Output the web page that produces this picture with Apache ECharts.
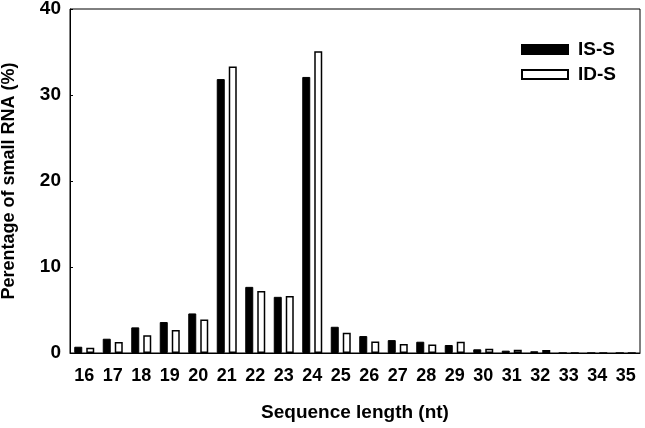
<!DOCTYPE html>
<html>
<head>
<meta charset="utf-8">
<script src="https://cdn.jsdelivr.net/npm/echarts@6/dist/echarts.min.js"></script>
<style>html,body{margin:0;padding:0;background:#fff;}#c{width:645px;height:428px;}</style>
</head>
<body>
<div id="c"></div>
<script>
const categories = ['16','17','18','19','20','21','22','23','24','25','26','27','28','29','30','31','32','33','34','35'];
const isS = [0.73,1.66,2.98,3.6,4.6,31.85,7.69,6.53,32.1,3.05,1.97,1.5,1.31,0.93,0.43,0.27,0.2,0,0,0];
const idS = [0.62,1.28,2.05,2.67,3.9,33.3,7.2,6.64,35.1,2.36,1.35,1.04,1.0,1.31,0.5,0.39,0.35,0,0,0];
const yTicks = {min:0, max:40, interval:10};

const font = 'Liberation Sans, Arial, sans-serif';
const chart = echarts.init(document.getElementById('c'));
chart.setOption({
  animation: false,
  backgroundColor: '#fff',
  grid: {left:70, right:5, top:9, bottom:75, show:true, borderColor:'#000', borderWidth:1, backgroundColor:'transparent', containLabel:false, outerBoundsMode:'none'},
  legend: {
    orient:'vertical', left:516, top:35, itemWidth:46, itemHeight:9, itemGap:6,
    icon:'rect',
    textStyle:{fontFamily:font, fontWeight:'bold', fontSize:19, color:'#000', padding:[0,0,0,5]},
    data:['IS-S','ID-S']
  },
  xAxis: {
    type:'category', data:categories,
    axisLine:{show:true, lineStyle:{color:'#000', width:1}},
    axisTick:{show:false},
    axisLabel:{fontFamily:font, fontWeight:'bold', fontSize:18, color:'#000', margin:14, interval:0},
    name:'Sequence length (nt)', nameLocation:'middle', nameGap:50,
    nameTextStyle:{fontFamily:font, fontWeight:'bold', fontSize:19, color:'#000'}
  },
  yAxis: {
    type:'value', min:yTicks.min, max:yTicks.max, interval:yTicks.interval,
    splitLine:{show:false},
    axisLine:{show:true, lineStyle:{color:'#000', width:1}},
    axisTick:{show:true, inside:true, length:3, lineStyle:{color:'#000'}},
    axisLabel:{fontFamily:font, fontWeight:'bold', fontSize:19, color:'#000', margin:9},
    name:'Perentage of small RNA (%)', nameLocation:'middle', nameGap:52, nameRotate:90,
    nameTextStyle:{fontFamily:font, fontWeight:'bold', fontSize:18, color:'#000'}
  },
  series: [
    {name:'IS-S', type:'bar', data:isS, barWidth:8, barGap:'50%',
     itemStyle:{color:'#000', borderColor:'#000', borderWidth:1}},
    {name:'ID-S', type:'bar', data:idS, barWidth:8,
     itemStyle:{color:'#fff', borderColor:'#000', borderWidth:1.5}}
  ]
});
</script>
</body>
</html>
